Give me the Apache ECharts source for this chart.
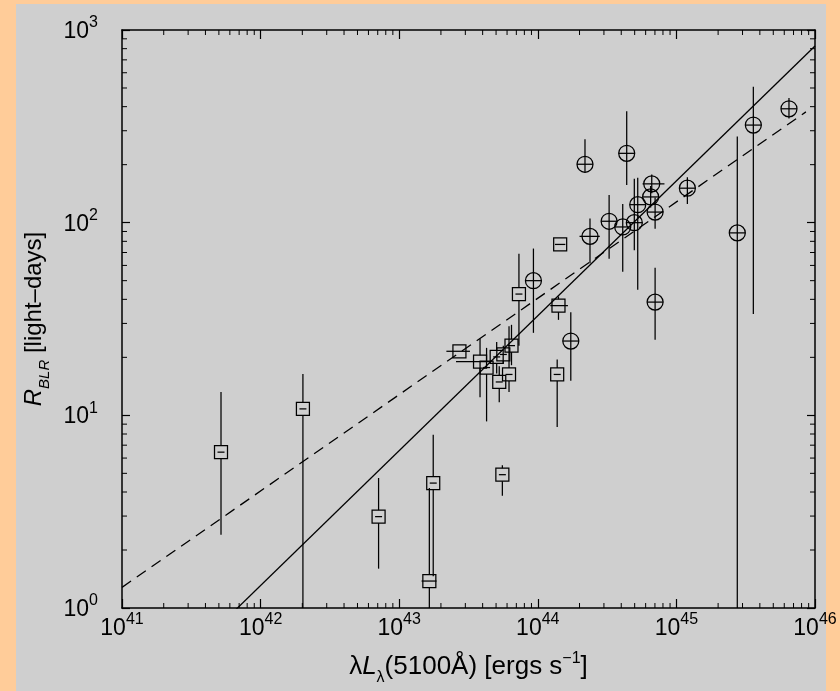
<!DOCTYPE html>
<html><head><meta charset="utf-8">
<script src="https://cdn.jsdelivr.net/npm/echarts@6/dist/echarts.min.js"></script>
<style>html,body{margin:0;padding:0;background:#FFCC99}#c{width:840px;height:691px}</style>
</head><body><div id="c"></div>
<script>
// ---- Data (L in erg/s, R in light-days); 0 means "no horizontal bar" ----
const squareL   = [5.18e41, 2.02e42, 7.1e42, 1.65e43, 1.76e43, 5.55e43, 2.72e43, 3.83e43, 4.27e43, 5.05e43, 5.64e43, 5.27e43, 6.2e43, 6.46e43, 7.31e43, 1.45e44, 1.41e44, 1.38e44];
const squareR   = [6.44, 10.8, 2.98, 1.38, 4.45, 4.92, 21.5, 19.0, 17.7, 20.1, 20.7, 14.9, 16.3, 23.0, 42.6, 77.1, 37.1, 16.3];
const squareRlo = [2.4, 0.5, 1.6, 0.5, 1.46, 3.82, 20.3, 12.4, 9.3, 16.5, 18.5, 11.7, 13.2, 18.2, 23.0, 73.5, 31.3, 8.7];
const squareRhi = [13.2, 16.4, 4.73, 4.2, 7.94, 5.5, 22.8, 25.0, 22.4, 24.0, 23.0, 18.0, 29.0, 29.5, 69.0, 80.5, 41.4, 19.5];
const squareLlo = [0, 0, 0, 1.45e43, 0, 0, 2.19e43, 2.57e43, 0, 0, 0, 0, 0, 0, 0, 1.33e44, 1.23e44, 0];
const squareLhi = [0, 0, 0, 1.86e43, 0, 0, 3.24e43, 4.52e43, 0, 0, 0, 0, 0, 0, 0, 1.58e44, 1.65e44, 0];

const circleL   = [9.3e43, 1.73e44, 2.19e44, 2.38e44, 3.27e44, 4.1e44, 4.38e44, 4.97e44, 5.26e44, 6.52e44, 6.64e44, 7.02e44, 7.02e44, 1.2e45, 2.75e45, 3.59e45, 6.49e45];
const circleR   = [50.0, 24.3, 201, 84.9, 101.7, 95, 229, 100, 124, 136, 159, 113.5, 38.7, 151, 88.5, 321, 390];
const circleRlo = [26.8, 15.1, 188, 61.5, 65, 55.7, 157, 72, 44.8, 120, 142, 93, 24.7, 125, 0.5, 33.6, 347];
const circleRhi = [73.4, 34.3, 271, 105, 139, 125, 379, 169, 171, 155, 178, 135, 58.4, 172, 280, 507, 444];
const circleLlo = [0, 0, 0, 2.0e44, 0, 0, 0, 0, 0, 0, 5.7e44, 0, 0, 0, 0, 0, 0];
const circleLhi = [0, 0, 0, 2.8e44, 0, 0, 0, 0, 0, 0, 8.2e44, 0, 0, 0, 0, 0, 0];

// Fits
const fitSolidL  = [1e41, 1e46];
const fitSolidR  = [0.261, 826];
const fitDashedL = [1e41, 8.6e45];
const fitDashedR = [1.28, 376];

const minorMultipliers = [2, 3, 4, 5, 6, 7, 8, 9];
const xDecades = [41, 42, 43, 44, 45];
const yDecades = [0, 1, 2];

const FONT = 'Liberation Sans, Arial, Helvetica, sans-serif';

function zip(...arrs) { return arrs[0].map((_, i) => arrs.map(a => a[i])); }
const squareData = zip(squareL, squareR, squareRlo, squareRhi, squareLlo, squareLhi);
const circleData = zip(circleL, circleR, circleRlo, circleRhi, circleLlo, circleLhi);

const LW = 1.25;
function seg(x1, y1, x2, y2) {
  return {type: 'line', shape: {x1, y1, x2, y2}, style: {stroke: '#000', lineWidth: LW}};
}
function makeRender(shape) {
  return function (params, api) {
    const L = api.value(0), R = api.value(1), lo = api.value(2), hi = api.value(3), xl = api.value(4), xh = api.value(5);
    const p = api.coord([L, R]);
    const pLo = api.coord([L, lo]);
    const pHi = api.coord([L, hi]);
    const ch = [];
    if (shape === 'sq') {
      const h = 6.5;
      ch.push({type: 'rect', shape: {x: p[0] - h, y: p[1] - h, width: 2 * h, height: 2 * h}, style: {stroke: '#000', fill: 'none', lineWidth: LW}});
      if (pHi[1] < p[1] - h) ch.push(seg(p[0], pHi[1], p[0], p[1] - h));
      if (pLo[1] > p[1] + h) ch.push(seg(p[0], p[1] + h, p[0], pLo[1]));
      if (xl > 0) {
        const a = api.coord([xl, R]), b = api.coord([xh, R]);
        ch.push(seg(a[0], p[1], b[0], p[1]));
      } else {
        ch.push(seg(p[0] - 3.5, p[1], p[0] + 3.5, p[1]));
      }
    } else {
      const r = 8;
      ch.push({type: 'circle', shape: {cx: p[0], cy: p[1], r: r}, style: {stroke: '#000', fill: 'none', lineWidth: LW}});
      ch.push(seg(p[0], Math.min(pHi[1], p[1] - r), p[0], Math.max(pLo[1], p[1] + r)));
      if (xl > 0) {
        const a = api.coord([xl, R]), b = api.coord([xh, R]);
        ch.push(seg(Math.min(a[0], p[0] - r), p[1], Math.max(b[0], p[0] + r), p[1]));
      } else {
        ch.push(seg(p[0] - r, p[1], p[0] + r, p[1]));
      }
    }
    return {type: 'group', children: ch};
  };
}

function renderMinorTicks(params, api) {
  const ch = [];
  const yb = api.coord([1e41, 1])[1], yt = api.coord([1e41, 1000])[1];
  const xl = api.coord([1e41, 1])[0], xr = api.coord([1e46, 1])[0];
  const len = 5;
  xDecades.forEach(k => minorMultipliers.forEach(m => {
    const x = api.coord([m * Math.pow(10, k), 1])[0];
    ch.push({type: 'line', shape: {x1: x, y1: yb, x2: x, y2: yb - len}, style: {stroke: '#000', lineWidth: 1}});
    ch.push({type: 'line', shape: {x1: x, y1: yt, x2: x, y2: yt + len}, style: {stroke: '#000', lineWidth: 1}});
  }));
  yDecades.forEach(k => minorMultipliers.forEach(m => {
    const y = api.coord([1e41, m * Math.pow(10, k)])[1];
    ch.push({type: 'line', shape: {x1: xl, y1: y, x2: xl + len, y2: y}, style: {stroke: '#000', lineWidth: 1}});
    ch.push({type: 'line', shape: {x1: xr, y1: y, x2: xr - len, y2: y}, style: {stroke: '#000', lineWidth: 1}});
  }));
  return {type: 'group', children: ch};
}

function expLabel(v) {
  const e = Math.round(Math.log10(v));
  return '{b|10}{s|' + e + '}';
}
const tickRich = {
  b: {fontFamily: FONT, fontSize: 23, color: '#000', verticalAlign: 'bottom', lineHeight: 26},
  s: {fontFamily: FONT, fontSize: 16, color: '#000', verticalAlign: 'bottom', lineHeight: 18, padding: [0, 0, 12, 0]}
};

const axisLineStyle = {show: true, lineStyle: {color: '#000', width: 1.5}};
const chart = echarts.init(document.getElementById('c'), null, {renderer: 'canvas'});
chart.setOption({
  backgroundColor: '#FFCC99',
  animation: false,
  graphic: [{type: 'rect', left: 16, top: 4, z: -100, silent: true, shape: {width: 810, height: 687}, style: {fill: '#CFCFCF'}}],
  grid: {left: 122, right: 25, top: 30, bottom: 79, containLabel: false},
  xAxis: [
    {type: 'log', logBase: 10, min: 1e41, max: 1e46, position: 'bottom',
     axisLine: axisLineStyle, splitLine: {show: false},
     axisTick: {show: true, inside: true, length: 9, lineStyle: {color: '#000', width: 1.2}},
     axisLabel: {margin: 6, formatter: expLabel, rich: tickRich},
     name: '{i|λ}{il|L}{sub|λ}{n|(5100Å) [ergs s}{sup|−1}{n|]}', nameLocation: 'middle', nameGap: 43,
     nameTextStyle: {rich: {
       i: {fontFamily: FONT, fontSize: 26, color: '#000', verticalAlign: 'bottom', padding: [0, 0, 6, 0]},
       il: {fontFamily: FONT, fontSize: 26, fontStyle: 'italic', color: '#000', verticalAlign: 'bottom', padding: [0, 0, 6, 0]},
       sub: {fontFamily: FONT, fontSize: 16, color: '#000', verticalAlign: 'bottom', padding: [0, 0, 0, 0]},
       n: {fontFamily: FONT, fontSize: 26, color: '#000', verticalAlign: 'bottom', padding: [0, 0, 6, 0]},
       sup: {fontFamily: FONT, fontSize: 16, color: '#000', verticalAlign: 'bottom', padding: [0, 0, 19, 0]}
     }}},
    {type: 'log', logBase: 10, min: 1e41, max: 1e46, position: 'top',
     axisLine: axisLineStyle, splitLine: {show: false},
     axisTick: {show: true, inside: true, length: 9, lineStyle: {color: '#000', width: 1.2}},
     axisLabel: {show: false}}
  ],
  yAxis: [
    {type: 'log', logBase: 10, min: 1, max: 1000, position: 'left',
     axisLine: axisLineStyle, splitLine: {show: false},
     axisTick: {show: true, inside: true, length: 8, lineStyle: {color: '#000', width: 1.2}},
     axisLabel: {margin: 24, formatter: expLabel, rich: tickRich},
     name: '{r|R}{sub|BLR}{n| [light–days]}', nameLocation: 'middle', nameRotate: 90, nameGap: 66,
     nameTextStyle: {rich: {
       r: {fontFamily: FONT, fontSize: 24, fontStyle: 'italic', color: '#000', verticalAlign: 'bottom', padding: [0, 0, 6, 0]},
       sub: {fontFamily: FONT, fontSize: 15, fontStyle: 'italic', color: '#000', verticalAlign: 'bottom', padding: [0, 0, 0, 0]},
       n: {fontFamily: FONT, fontSize: 24, color: '#000', verticalAlign: 'bottom', padding: [0, 0, 6, 0]}
     }}},
    {type: 'log', logBase: 10, min: 1, max: 1000, position: 'right',
     axisLine: axisLineStyle, splitLine: {show: false},
     axisTick: {show: true, inside: true, length: 8, lineStyle: {color: '#000', width: 1.2}},
     axisLabel: {show: false}}
  ],
  series: [
    {type: 'custom', name: 'minorTicks', xAxisIndex: 0, yAxisIndex: 0, clip: false, silent: true,
     data: [[1e41, 1]], renderItem: renderMinorTicks, z: 5},
    {type: 'line', name: 'fitSolid', data: zip(fitSolidL, fitSolidR), showSymbol: false, symbol: 'none', clip: true,
     lineStyle: {color: '#000', width: 1.3}, z: 3},
    {type: 'line', name: 'fitDashed', data: zip(fitDashedL, fitDashedR), showSymbol: false, symbol: 'none', clip: true,
     lineStyle: {color: '#000', width: 1.3, type: [11, 7]}, z: 3},
    {type: 'custom', name: 'squares', clip: true, data: squareData, renderItem: makeRender('sq'),
     encode: {x: 0, y: 1}, z: 4},
    {type: 'custom', name: 'circles', clip: true, data: circleData, renderItem: makeRender('ci'),
     encode: {x: 0, y: 1}, z: 4}
  ]
});
</script></body></html>
